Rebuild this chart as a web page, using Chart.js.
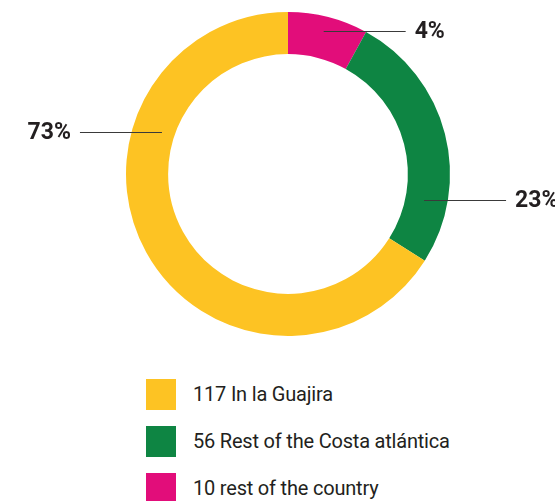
<!DOCTYPE html>
<html>
<head>
<meta charset="utf-8">
<script src="https://cdn.jsdelivr.net/npm/chart.js@4/dist/chart.umd.min.js"></script>
<style>
  body { margin: 0; background: #fff; width: 555px; height: 501px; overflow: hidden; position: relative; font-family: Roboto, sans-serif; }
  #wrap { position: absolute; left: 0; top: 0; width: 555px; height: 348px; }
  #legend { position: absolute; left: 146px; top: 379px; margin: 0; padding: 0; list-style: none; }
  #legend li { height: 47px; display: flex; align-items: flex-start; }
  #legend .sw { width: 30px; height: 31px; margin-right: 17px; }
  #legend .tx { font-size: 20px; line-height: 31px; color: #231f20; letter-spacing: -0.2px; white-space: nowrap; }
</style>
</head>
<body>
<div id="wrap"><canvas id="donut"></canvas></div>
<ul id="legend"></ul>
<script>
// legend order (top to bottom)
let categories = ["In la Guajira", "Rest of the Costa atlántica", "rest of the country"];
let counts = [117, 56, 10];
// slice sizes as drawn in the picture (%)
let shares = [66, 26, 8];
let pctLabels = ["73%", "23%", "4%"];
let colors = ["#fdc323", "#0e8543", "#e20d7a"];

// where each callout line starts: angle (deg, clockwise from top), radius fraction, side
let callouts = [
  { angle: 288.4, r: 0.82, side: -1 },
  { angle: 100.8, r: 0.855, side: 1 },
  { angle: 14, r: 0.91, side: 1 }
];

// legend
let legend = document.getElementById("legend");
categories.forEach((c, i) => {
  let li = document.createElement("li");
  li.innerHTML = `<span class="sw" style="background:${colors[i]}"></span><span class="tx">${counts[i]} ${c}</span>`;
  legend.appendChild(li);
});

// slices run clockwise from the top: magenta, green, yellow
let order = [2, 1, 0];

let calloutPlugin = {
  id: "callouts",
  afterDatasetsDraw(chart){
    let arc = chart.getDatasetMeta(0).data[0];
    let cx = arc.x, cy = arc.y, R = arc.outerRadius;
    let ctx = chart.ctx;
    ctx.save();
    callouts.forEach((c, i) => {
      let a = c.angle * Math.PI / 180;
      let x0 = cx + Math.sin(a) * R * c.r;
      let y0 = Math.round(cy - Math.cos(a) * R * c.r) + 0.5;
      let x1 = x0 + c.side * 82;
      ctx.strokeStyle = "#3a3a3a";
      ctx.lineWidth = 1.2;
      ctx.beginPath();
      ctx.moveTo(x0, y0);
      ctx.lineTo(x1, y0);
      ctx.stroke();
      ctx.fillStyle = "#231f20";
      ctx.font = "bold 23px Roboto";
      ctx.textBaseline = "middle";
      ctx.textAlign = c.side > 0 ? "left" : "right";
      ctx.fillText(pctLabels[i], x1 + c.side * 9, y0 + 1);
    });
    ctx.restore();
  }
};

new Chart(document.getElementById("donut"), {
  type: "doughnut",
  data: {
    labels: order.map(i => categories[i]),
    datasets: [{
      data: order.map(i => shares[i]),
      backgroundColor: order.map(i => colors[i]),
      borderWidth: 0
    }]
  },
  options: {
    responsive: true,
    maintainAspectRatio: false,
    animation: false,
    cutout: "74%",
    layout: { padding: { left: 21, top: 12, bottom: 12 } },
    plugins: { legend: { display: false }, tooltip: { enabled: false } }
  },
  plugins: [calloutPlugin]
});
</script>
</body>
</html>
